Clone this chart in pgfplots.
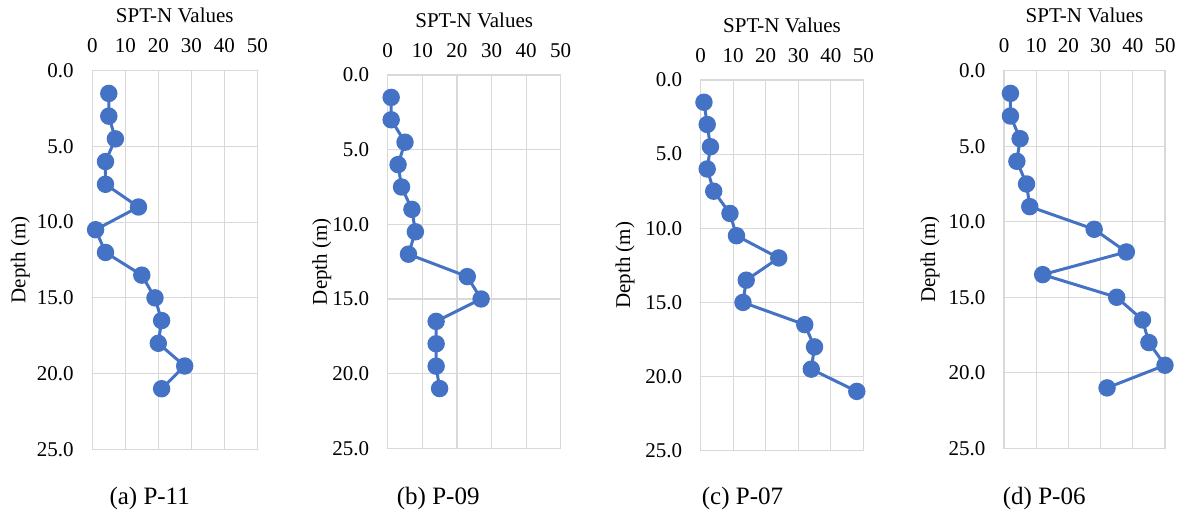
\documentclass[border=0pt]{standalone}
\usepackage{fontspec}
\setmainfont{Liberation Serif}
\usepackage{pgfplots}
\pgfplotsset{compat=1.18}

\definecolor{ser}{HTML}{4472C4}
\definecolor{grd}{HTML}{D9D9D9}

\newcommand{\fs}{\fontsize{21}{25}\selectfont}

\pgfplotsset{spt/.style={
    scale only axis,
    xmin=0, xmax=50, ymin=0, ymax=25,
    y dir=reverse,
    xtick={0,10,20,30,40,50},
    ytick={0,5,10,15,20,25},
    xticklabel pos=upper,
    major tick length=0pt,
    grid=major,
    grid style={grd, line width=1.2pt},
    axis line style={grd, line width=1.2pt},
    clip=false,
    /pgf/number format/assume math mode=true,
    tick label style={font=\fs},
    yticklabel style={/pgf/number format/fixed, /pgf/number format/fixed zerofill, /pgf/number format/precision=1},
    yticklabel style={anchor=east, inner sep=0pt, xshift=-18.5pt},
    xticklabel style={anchor=base, inner sep=0pt, yshift=18pt},
    xlabel={SPT-N Values},
    ylabel={Depth (m)},
    xlabel style={font=\fs, at={(axis description cs:0.5,1)}, anchor=base, inner sep=0pt, yshift=48pt},
}, sptline/.style={ser, line width=3pt, mark=*, mark size=7.2pt, mark options={solid, fill=ser, draw=none}}}

\begin{document}
\begin{tikzpicture}
\path (0,0) rectangle (1186pt,-513pt);

% (a) P-11
\begin{axis}[spt, at={(92.3pt,-70.7pt)}, anchor=north west, width=165pt, height=378.6pt,
    ylabel style={font=\fs, at={([xshift=-72pt]axis description cs:0,0.5)}, anchor=center, inner sep=0pt}]
\addplot[sptline] coordinates {(5,1.5)(5,3)(7,4.5)(4,6)(4,7.5)(14,9)(1,10.5)(4,12)(15,13.5)(19,15)(21,16.5)(20,18)(28,19.5)(21,21)};
\end{axis}

% (b) P-09
\begin{axis}[spt, at={(387.7pt,-75pt)}, anchor=north west, width=173pt, height=373.3pt,
    ylabel style={font=\fs, at={([xshift=-66pt]axis description cs:0,0.5)}, anchor=center, inner sep=0pt}]
\addplot[sptline] coordinates {(1,1.5)(1,3)(5,4.5)(3,6)(4,7.5)(7,9)(8,10.5)(6,12)(23,13.5)(27,15)(14,16.5)(14,18)(14,19.5)(15,21)};
\end{axis}

% (c) P-07
\begin{axis}[spt, at={(700.7pt,-80pt)}, anchor=north west, width=162.6pt, height=370.7pt,
    ylabel style={font=\fs, at={([xshift=-75.7pt]axis description cs:0,0.5)}, anchor=center, inner sep=0pt}]
\addplot[sptline] coordinates {(1,1.5)(2,3)(3,4.5)(2,6)(4,7.5)(9,9)(11,10.5)(24,12)(14,13.5)(13,15)(32,16.5)(35,18)(34,19.5)(48,21)};
\end{axis}

% (d) P-06
\begin{axis}[spt, at={(1004pt,-70.7pt)}, anchor=north west, width=161pt, height=377.6pt,
    ylabel style={font=\fs, at={([xshift=-74pt]axis description cs:0,0.5)}, anchor=center, inner sep=0pt}]
\addplot[sptline] coordinates {(2,1.5)(2,3)(5,4.5)(4,6)(7,7.5)(8,9)(28,10.5)(38,12)(12,13.5)(35,15)(43,16.5)(45,18)(50,19.5)(32,21)};
\end{axis}

\node[anchor=base west, inner sep=0pt, font=\fontsize{25}{30}\selectfont] at (109.3pt,-504pt) {(a) P-11};
\node[anchor=base west, inner sep=0pt, font=\fontsize{25}{30}\selectfont] at (396.7pt,-504pt) {(b) P-09};
\node[anchor=base west, inner sep=0pt, font=\fontsize{25}{30}\selectfont] at (701.7pt,-504pt) {(c) P-07};
\node[anchor=base west, inner sep=0pt, font=\fontsize{25}{30}\selectfont] at (1002.7pt,-504pt) {(d) P-06};
\end{tikzpicture}
\end{document}
